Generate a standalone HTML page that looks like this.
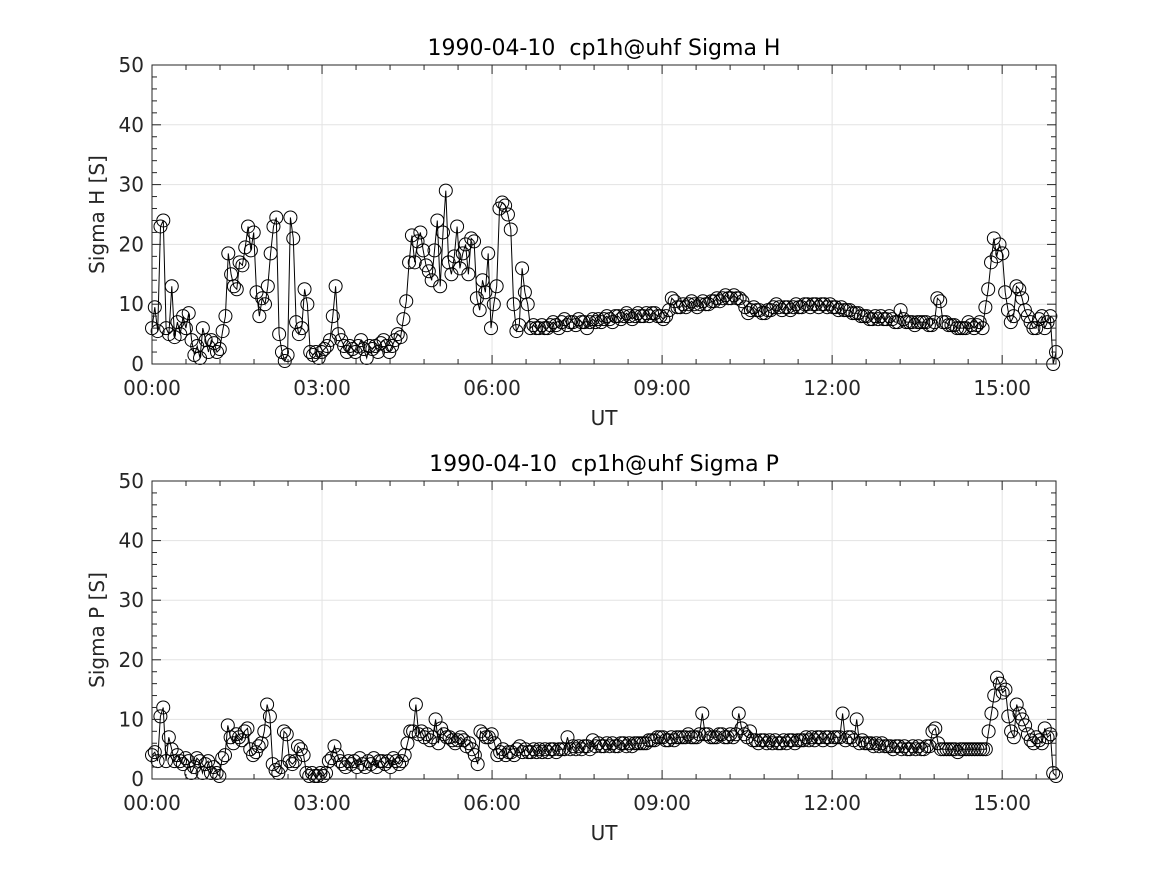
<!DOCTYPE html>
<html><head><meta charset="utf-8"><style>
body{margin:0;background:#fff}
svg{display:block;font-family:"DejaVu Sans","Liberation Sans",sans-serif}
</style></head><body>
<svg id="fig" width="1167" height="875" viewBox="0 0 1167 875"></svg>
<script>
const xTickLabels = ["00:00","03:00","06:00","09:00","12:00","15:00"];
const xTickHours = [0,3,6,9,12,15];
const yTicks = [0,10,20,30,40,50];
const sigmaH = [
6,9.5,5.5,23,24,6,5,13,4.5,7,5,8,6,8.5,4,1.5,3,1,6,4,
2,4,3.5,2,2.5,5.5,8,18.5,15,13,12.5,17,16.5,19.5,23,19,22,12,8,11,
10,13,18.5,23,24.5,5,2,0.5,1.5,24.5,21,7,5,6,12.5,10,2,1.5,2,1,
2,2.5,3,4,8,13,5,4,3,2,3,2.5,2,3,4,2.5,1,3,2.5,3,
2,3.5,4,3,2,3,4,5,4.5,7.5,10.5,17,21.5,17,20.5,22,19,16.5,15.5,14,
19,24,13,22,29,17,15,18,23,16,18.5,20,15,21,20.5,11,9,14,12,18.5,
6,10,13,26,27,26.5,25,22.5,10,5.5,6.5,16,12,10,6,6.5,6,6,6.5,6,
6,6.5,7,6.5,6,7,7.5,6.5,7,7,6.5,7.5,7,7,6,7,7.5,7,7.5,7,
7.5,8,7.5,7,8,8,7.5,8,8.5,8,7.5,8,8.5,8,8,8.5,8,8.5,8.5,8,
8,7.5,8,9,11,10.5,9.5,9.5,10,9.5,10,10.5,10,9.5,10,10.5,10,10,10.5,10.5,
11,10.5,11,11.5,11,11,11.5,11,11,10.5,9.5,8.5,9,9.5,9,9,8.5,8.5,9,9,
9.5,10,9.5,9,9.5,9.5,9,9.5,10,9.5,9.5,10,10,9.5,10,10,9.5,10,10,9.5,
10,9.5,9.5,9,9.5,9,9,9,8.5,8.5,8.5,8,8,8,7.5,7.5,8,7.5,8,7.5,
7.5,8,7.5,7,7,9,7.5,7,7,7,6.5,7,7,7,7,6.5,6.5,7,11,10.5,
7,7,6.5,6.5,6.5,6,6,6,6,7,6.5,6,6.5,7,6,9.5,12.5,17,21,18,
20,18.5,12,9,7,8,13,12.5,11,9,8,7,6,6,7.5,8,6,7,8,0,2];
const sigmaP = [
4,4.5,3,10.5,12,3,7,5,3,4,3,2.5,3.5,3,1,2,3.5,3,1,2.5,
3,1,2,1,0.5,3.5,4,9,7,6,7.5,7,6.5,8,8.5,5,4,4.5,5.5,6,
8,12.5,10.5,2.5,1.5,1,2,8,7.5,3,2.5,3,5.5,5,4,1,0.5,1,0.5,0.5,
1,0.5,1,3,3.5,5.5,4,3,2.5,2,3,2.5,3,2,3.5,2.5,2,3,2.5,3.5,
2,3,3,2.5,3,2,3.5,3,2.5,3,4,6,8,8,12.5,7.5,8,7,7.5,6.5,
7,10,6,8.5,7.5,7,7,6.5,6,6.5,7,6.5,5.5,6,5,4,2.5,8,7.5,7,
7,7.5,6,4,4.5,5,4,4.5,4.5,4,5,5.5,4.5,5,4.5,4.5,5,4.5,5,4.5,
5,4.5,5,5,4.5,5,5,5,7,5,5.5,5,5.5,5,5.5,5.5,5,6.5,5.5,6,
5.5,5.5,6,5.5,6,5.5,5.5,6,6,5.5,6,5.5,6,6,6,6,6,6.5,6.5,6.5,
7,7,7,6.5,6.5,7,6.5,7,7,7,7,7.5,7,7,7,7.5,11,7.5,7.5,7,
7,7,7.5,7.5,7,7,7.5,7,7.5,11,8.5,7.5,7,8,6.5,6.5,6,6.5,6.5,6,
6.5,6,6.5,6,6,6.5,6,6.5,6.5,6,6.5,6.5,6.5,7,6.5,7,6.5,7,7,6.5,
7,7,6.5,7,7,7,11,6.5,7,7,6.5,10,6,6.5,6,6,6,5.5,6,5.5,
6,5.5,5.5,5.5,5,5.5,5.5,5,5.5,5,5,5.5,5,5.5,5,5,5.5,5.5,8,8.5,
6,5,5,5,5,5,5,4.5,5,5,5,5,5,5,5,5,5,5,8,11,
14,17,16,14.5,15,10.5,8,7,12.5,11,10,9,7.5,6.5,6,7,6.5,6,8.5,7,7.5,1,0.5];

const NS="http://www.w3.org/2000/svg";
const svg=document.getElementById('fig');
function mk(tag,attrs,parent){const e=document.createElementNS(NS,tag);for(const k in attrs)e.setAttribute(k,attrs[k]);(parent||svg).appendChild(e);return e;}
const X0=152,X1=1056,TMAX=15.95;
function xs(h){return X0+(h/TMAX)*(X1-X0);}

function panel(top,bottom,values,title,ylab,key){
  const g=mk('g',{});
  
  
  const ys=v=>bottom-(v/50)*(bottom-top);
  xTickHours.forEach(h=>{if(h>0){const l=mk('line',{x1:xs(h),x2:xs(h),y1:top,y2:bottom,stroke:'#e3e3e3','stroke-width':1},g);
    
    }});
  yTicks.forEach(v=>{if(v>0&&v<50){const l=mk('line',{x1:X0,x2:X1,y1:ys(v),y2:ys(v),stroke:'#e3e3e3','stroke-width':1},g);
    
    }});
  const n=values.length, dt=TMAX/(n-1);
  const pts=values.map((v,i)=>xs(i*dt).toFixed(1)+','+ys(v).toFixed(1)).join(' ');
  const line=mk('polyline',{points:pts,fill:'none',stroke:'#000','stroke-width':1},g);
  
  
  values.forEach((v,i)=>{const c=mk('circle',{cx:xs(i*dt),cy:ys(v),r:6.5,fill:'none',stroke:'#000','stroke-width':1},g);
    
    });
  const box=mk('rect',{x:X0,y:top,width:X1-X0,height:bottom-top,fill:'none',stroke:'#262626','stroke-width':1},g);
  
  
  for(let v=0;v<=50;v+=2){const len=(v%10===0)?9:5;
    mk('line',{x1:X0,x2:X0+len,y1:ys(v),y2:ys(v),stroke:'#262626'},g);
    mk('line',{x1:X1,x2:X1-len,y1:ys(v),y2:ys(v),stroke:'#262626'},g);}
  for(let h=0;h<=TMAX;h+=0.6){const major=Math.abs(h/3-Math.round(h/3))<1e-6;const len=major?9:5;
    mk('line',{x1:xs(h),x2:xs(h),y1:bottom,y2:bottom-len,stroke:'#262626'},g);
    mk('line',{x1:xs(h),x2:xs(h),y1:top,y2:top+len,stroke:'#262626'},g);}
  yTicks.forEach(v=>{const t=mk('text',{x:X0-8,y:ys(v)+7,'text-anchor':'end','font-size':20,fill:'#262626'},g);t.textContent=v;
    
    });
  xTickHours.forEach((h,i)=>{const t=mk('text',{x:xs(h),y:bottom+31,'text-anchor':'middle','font-size':20,fill:'#262626'},g);t.textContent=xTickLabels[i];
    
    });
  const xt=mk('text',{x:604,y:bottom+61,'text-anchor':'middle','font-size':20,fill:'#262626'},g);xt.textContent='UT';
  
  
  const yt=mk('text',{x:0,y:0,'text-anchor':'middle','font-size':20,fill:'#262626',transform:`translate(104,${(top+bottom)/2}) rotate(-90)`},g);yt.textContent=ylab;
  
  
  const tt=mk('text',{x:604,y:top-10,'text-anchor':'middle','font-size':22,fill:'#000'},g);tt.textContent=title;
  tt.style.whiteSpace='pre';
  
  
}
panel(65,364,sigmaH,'1990-04-10  cp1h@uhf Sigma H','Sigma H [S]','sigma-h');
panel(481,779,sigmaP,'1990-04-10  cp1h@uhf Sigma P','Sigma P [S]','sigma-p');
</script>
</body></html>
